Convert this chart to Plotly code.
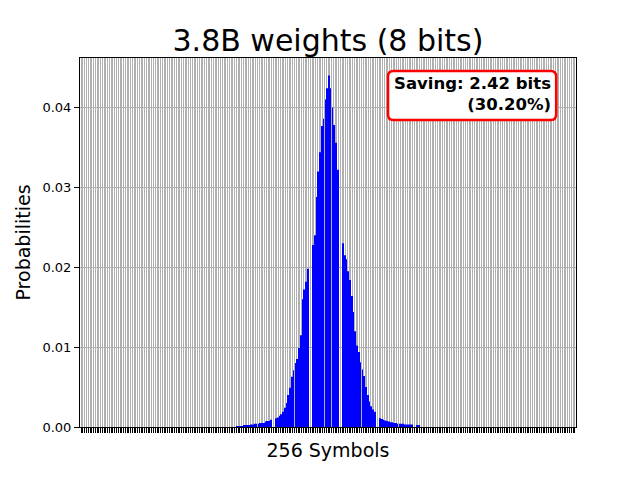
import plotly.graph_objects as go

# probability of each of the 256 symbols (index 0..255)
leading_zeros = [0.0] * 76
probs_mid = [
    0.0001, 0.0001, 0.0001, 0.0001, 0.0002, 0.00025, 0.00025, 0.00025,   # 76-83
    0.0003, 0.0003, 0.0004, 0.0004, 0.0004, 0.0005, 0.0005, 0.0005,      # 84-91
    0.0007, 0.00075, 0.00075, 0.0009, 0.0, 0.0, 0.0011, 0.0012,          # 92-99
    0.0014, 0.0016, 0.0019, 0.0024, 0.0030, 0.0040, 0.0049, 0.0063,      # 100-107
    0.0071, 0.0080, 0.0085, 0.0099, 0.0115, 0.0160, 0.0172, 0.0182,      # 108-115
    0.0198, 0.0, 0.0, 0.0228, 0.0240, 0.0288, 0.0320, 0.0344,            # 116-123
    0.0377, 0.0386, 0.0410, 0.0424, 0.0440, 0.0424, 0.0400, 0.0378,      # 124-131
    0.0356, 0.0322, 0.0, 0.0, 0.0230, 0.0215, 0.0210, 0.0195,            # 132-139
    0.0184, 0.0164, 0.0144, 0.0120, 0.0102, 0.0094, 0.0081, 0.0072,      # 140-147
    0.0064, 0.0050, 0.0040, 0.0032, 0.0026, 0.0022, 0.0019, 0.0,         # 148-155
    0.0, 0.0011, 0.0010, 0.0009, 0.0008, 0.00075, 0.0007, 0.0006,        # 156-163
    0.0006, 0.0005, 0.0005, 0.0004, 0.0004, 0.0004, 0.0004, 0.0003,      # 164-171
    0.0003, 0.0003, 0.0003, 0.0003, 0.0, 0.0, 0.0002, 0.0002,            # 172-179
]
trailing_zeros = [0.0] * 76
probs = leading_zeros + probs_mid + trailing_zeros
symbols = list(range(256))

title_text = "3.8B weights (8 bits)"
saving_text = "Saving: 2.42 bits<br>(30.20%)"
y_ticks = [0.0, 0.01, 0.02, 0.03, 0.04]

font = "DejaVu Sans"

fig = go.Figure()
fig.add_trace(go.Bar(x=symbols, y=probs, marker=dict(color="blue", line=dict(width=0))))

# the page body has an 8px offset, so margins are shifted to land the axes where the reference has them
fig.update_layout(
    width=640, height=480,
    margin=dict(l=72, r=72, t=50, b=61),
    paper_bgcolor="white", plot_bgcolor="white",
    bargap=0.6,
    showlegend=False,
    font=dict(family=font, color="black"),
    title=dict(text=title_text, font=dict(size=30, family=font, color="black"),
               x=0.5, xanchor="center", y=0.933, yanchor="middle", yref="container"),
)

fig.update_xaxes(
    range=[-13.19, 268.19],
    tickmode="linear", tick0=0.5, dtick=1,
    showticklabels=False,
    ticks="outside", ticklen=5, tickwidth=1, tickcolor="black",
    showgrid=True, gridcolor="#b0b0b0", gridwidth=1,
    showline=True, linecolor="black", linewidth=1, mirror=True,
    zeroline=False, automargin=False,
    title=dict(text="256 Symbols", font=dict(size=19, family=font), standoff=11),
)
fig.update_yaxes(
    range=[0, 0.0462],
    tickvals=y_ticks, tickformat=".2f",
    tickfont=dict(size=13, family=font),
    ticks="outside", ticklen=5, tickwidth=1, tickcolor="black",
    showgrid=True, gridcolor="#b0b0b0", gridwidth=1,
    showline=True, linecolor="black", linewidth=1, mirror=True,
    zeroline=False, automargin=False,
    title=dict(text="Probabilities", font=dict(size=19, family=font), standoff=6),
)

# rounded red box behind the saving note
x0, x1, y0, y1 = 0.621, 0.960, 0.832, 0.965
rx, ry = 0.011, 0.015
box_path = (
    f"M {x0 + rx},{y1} L {x1 - rx},{y1} Q {x1},{y1} {x1},{y1 - ry} "
    f"L {x1},{y0 + ry} Q {x1},{y0} {x1 - rx},{y0} "
    f"L {x0 + rx},{y0} Q {x0},{y0} {x0},{y0 + ry} "
    f"L {x0},{y1 - ry} Q {x0},{y1} {x0 + rx},{y1} Z"
)
fig.add_shape(type="path", path=box_path, xref="paper", yref="paper",
              fillcolor="white", line=dict(color="red", width=2.5), layer="above")

fig.add_annotation(
    text="<b>" + saving_text + "</b>",
    xref="paper", yref="paper", x=0.952, y=0.958,
    xanchor="right", yanchor="top", align="right",
    showarrow=False,
    font=dict(size=16.5, family=font, color="black"),
    bgcolor="rgba(0,0,0,0)", borderwidth=0, borderpad=1,
)

fig.write_html("out.html")
